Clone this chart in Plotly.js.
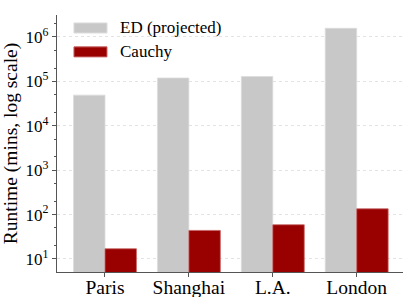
<!DOCTYPE html>
<html><head><meta charset="utf-8">
<script src="https://cdn.plot.ly/plotly-3.0.1.min.js"></script>
<style>html,body{margin:0;padding:0;background:#fff}#c{width:405px;height:297px}</style>
</head><body><div id="c"></div>
<script>
const cities = ["Paris", "Shanghai", "L.A.", "London"];
const edProjected = [49000, 119000, 129000, 1570000];
const cauchy = [17, 44, 59, 135];
const seriesNames = ["ED (projected)", "Cauchy"];
const seriesColors = ["#c8c8c8", "#990000"];
const edgeColors = ["#dcdcdc", "#c86464"];
const yTickVals = [10, 100, 1000, 10000, 100000, 1000000];
const yTickText = ["10<sup>1</sup>", "10<sup>2</sup>", "10<sup>3</sup>", "10<sup>4</sup>", "10<sup>5</sup>", "10<sup>6</sup>"];

const FAM = "Liberation Serif";
const data = [
  {type: "bar", x: cities, y: edProjected, name: seriesNames[0],
   marker: {color: seriesColors[0], line: {color: edgeColors[0], width: 0.8}}},
  {type: "bar", x: cities, y: cauchy, name: seriesNames[1],
   marker: {color: seriesColors[1], line: {color: edgeColors[1], width: 0.8}}}
];

// legend drawn as patches + text (paper coordinates)
const legendRows = [{y0: 0.930, y1: 0.969, ty: 0.950}, {y0: 0.837, y1: 0.876, ty: 0.857}];
const shapes = legendRows.map((r, i) => ({
  type: "rect", xref: "paper", yref: "paper", x0: 0.049, x1: 0.1445, y0: r.y0, y1: r.y1,
  fillcolor: seriesColors[i], line: {color: edgeColors[i], width: 1}
}));
const annotations = legendRows.map((r, i) => ({
  xref: "paper", yref: "paper", x: 0.176, y: r.ty, xanchor: "left", yanchor: "middle",
  text: seriesNames[i], showarrow: false, font: {family: FAM, size: 17, color: "#000"}
}));

const layout = {
  width: 405, height: 297,
  margin: {l: 57, r: 2, t: 15, b: 25},
  paper_bgcolor: "#fff", plot_bgcolor: "#fff",
  barmode: "group", bargap: 0.25, bargroupgap: 0,
  font: {family: FAM, size: 17, color: "#000"},
  showlegend: false,
  shapes: shapes, annotations: annotations,
  xaxis: {range: [-0.572, 3.552], showline: true, linecolor: "#555", linewidth: 1.2,
          ticks: "outside", ticklen: 4, tickcolor: "#555", showgrid: false,
          ticklabelstandoff: -7,
          tickfont: {family: FAM, size: 19.5, color: "#000"}, zeroline: false},
  yaxis: {type: "log", range: [0.707, 6.495], showline: true, linecolor: "#555", linewidth: 1.2,
          ticks: "outside", ticklen: 4, tickcolor: "#555",
          tickmode: "array", tickvals: yTickVals, ticktext: yTickText,
          tickfont: {family: FAM, size: 17, color: "#000"},
          showgrid: true, gridcolor: "#e3e3e3", griddash: "dot", gridwidth: 1,
          minor: {ticks: "outside", ticklen: 2, tickcolor: "#555", dtick: "D2", showgrid: false},
          zeroline: false,
          title: {text: "Runtime (mins, log scale)", font: {family: FAM, size: 19.5, color: "#000"}, standoff: 6}}
};
Plotly.newPlot("c", data, layout, {displayModeBar: false, staticPlot: true});
</script></body></html>
